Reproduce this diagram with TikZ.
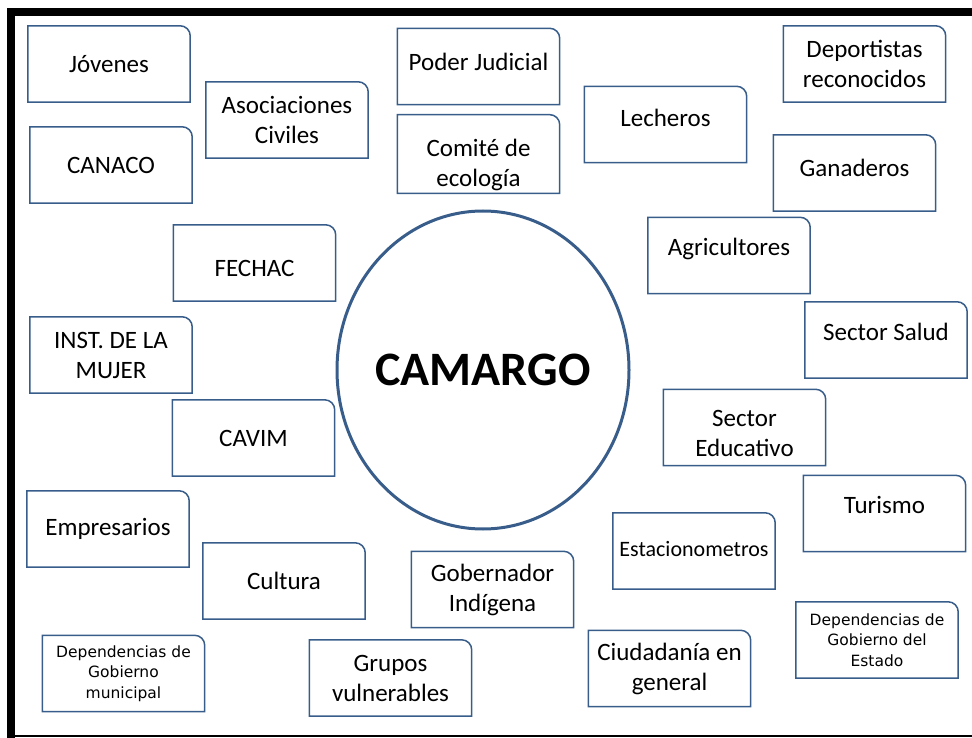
\documentclass[tikz,border=0pt]{standalone}
\usepackage{fontspec}
\setmainfont{Carlito}
\newfontfamily\tinyfam{DejaVu Sans}
\usetikzlibrary{shapes.geometric}
\definecolor{boxblue}{RGB}{56,93,138}
\tikzset{
  actor/.style={minimum width=162pt, minimum height=76pt, inner sep=2pt, align=center,
    font=\fontsize{25}{30}\selectfont},
  smalltext/.style={font=\fontsize{15.5}{20.5}\selectfont\tinyfam},
  lift/.style={text depth=#1},
  drop/.style={text height=#1},
  outline/.style={draw=boxblue, line width=1.5pt}
}
\begin{document}
\begin{tikzpicture}[x=1pt,y=-1pt]
  \useasboundingbox (0,0) rectangle (972,738);
  % frame
  \draw[line width=8pt] (11,738) -- (11,12) -- (972,12);
  \draw[line width=2pt] (15,736) -- (972,736);

  \node[ellipse, draw=boxblue, line width=3pt, inner sep=-40pt, minimum width=292pt,
    minimum height=318pt, font=\fontsize{48}{58}\selectfont\bfseries] (camargo) at (483,370) {CAMARGO};

  % left column
  \node[actor] (jovenes) at (109,64) {Jóvenes};
  \node[actor] (canaco) at (111,165) {CANACO};
  \node[actor] (asoc) at (287,120) {Asociaciones\\Civiles};
  \node[actor, drop=28pt] (fechac) at (254.5,263) {FECHAC};
  \node[actor] (inst) at (111,355) {INST. DE LA\\MUJER};
  \node[actor] (cavim) at (253.5,438) {CAVIM};
  \node[actor] (empres) at (108,529) {Empresarios};
  \node[actor] (cultura) at (284,581) {Cultura};
  \node[actor, smalltext] (depmun) at (123.5,673.5) {Dependencias de\\Gobierno\\municipal};
  % middle
  \node[actor, lift=10pt] (poder) at (478.5,66.5) {Poder Judicial};
  \node[actor, drop=70pt] (comite) at (478.5,154) {Comité de\\ecología};
  \node[actor] (gober) at (492.5,589.5) {Gobernador\\Indígena};
  \node[actor] (grupos) at (390.5,678) {Grupos\\vulnerables};
  % right side
  \node[actor, lift=13pt] (lecheros) at (665.5,124.5) {Lecheros};
  \node[actor] (deport) at (864.5,64) {Deportistas\\reconocidos};
  \node[actor, lift=11pt] (ganad) at (854.5,173) {Ganaderos};
  \node[actor, lift=17pt] (agric) at (729,255.5) {Agricultores};
  \node[actor, lift=17pt] (salud) at (886,340) {Sector Salud};
  \node[actor, drop=59pt] (educ) at (744.5,427.5) {Sector\\Educativo};
  \node[actor, lift=17pt] (turismo) at (884.5,513.5) {Turismo};
  \node[actor, lift=5pt, font=\fontsize{22}{26}\selectfont] (estac) at (694,551) {Estacionometros};
  \node[actor] (ciud) at (669.5,668.5) {Ciudadanía en\\general};
  \node[actor, smalltext] (depest) at (877,640) {Dependencias de\\Gobierno del\\Estado};

  % boxes with one round corner
  \foreach \n in {jovenes,canaco,asoc,fechac,inst,cavim,empres,cultura,depmun,
      poder,comite,gober,grupos,lecheros,deport,ganad,agric,salud,educ,turismo,
      estac,ciud,depest}
    \draw[outline] (\n.south west) |- ([xshift=-10pt]\n.north east)
      arc[start angle=90, end angle=0, radius=10pt] |- (\n.south west) -- cycle;
\end{tikzpicture}
\end{document}
